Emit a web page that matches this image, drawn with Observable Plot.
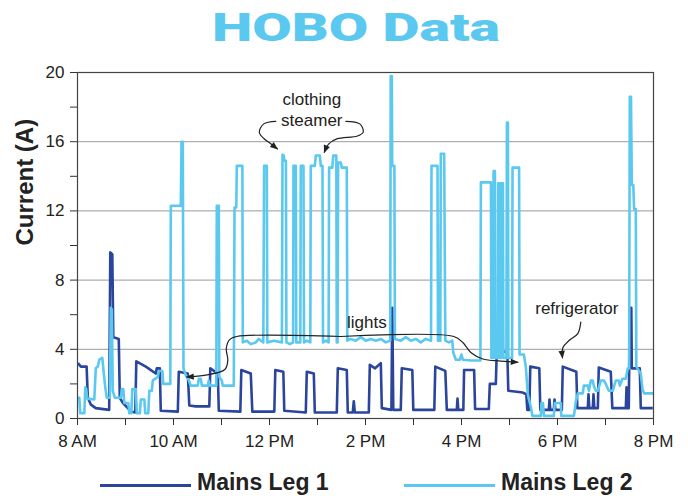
<!DOCTYPE html>
<html>
<head>
<meta charset="utf-8">
<script src="https://cdn.jsdelivr.net/npm/d3@7"></script>
<script src="https://cdn.jsdelivr.net/npm/@observablehq/plot@0.6"></script>
<style>
  html, body { margin: 0; padding: 0; background: #fff; }
  body { width: 688px; height: 496px; overflow: hidden; font-family: "Liberation Sans", Arial, sans-serif; }
  #title { position: relative; height: 60px; }
  #title span { position: absolute; left: 212px; top: 9px; line-height: 1; font-family: Roboto, "Liberation Sans", sans-serif; font-weight: 900; font-size: 39px; color: #5bc9ef; white-space: nowrap; transform-origin: left top; }
  #chart { height: 394px; }
  #legend { position: relative; height: 42px; }
  .item { position: absolute; top: 16px; display: flex; align-items: center; height: 24px; }
  .swatch { width: 91px; height: 3px; margin-top: 6px; margin-right: 6px; }
  .lab { font-weight: bold; font-size: 23px; color: #222; line-height: 24px; white-space: nowrap; }
</style>
</head>
<body>
<div id="title"><span>HOBO Data</span></div>
<div id="chart"></div>
<div id="legend"></div>
<script>
// ---- data ----
const seriesNames = ["Mains Leg 1", "Mains Leg 2"];
const seriesColors = ["#2b459d", "#5ac8ef"];

// [hour of day, current (A)]
const leg1Readings = [
  [8.01,3.2],[8.07,3.0],[8.19,3.0],[8.215,1.2],[8.28,0.8],[8.38,0.6],[8.66,0.5],[8.683,9.6],[8.725,9.5],[8.746,4.7],
  [8.86,4.6],[8.881,1.2],[8.944,0.9],[9.048,0.6],[9.11,0.4],[9.204,0.35],[9.225,3.3],[9.423,3.0],[9.631,2.6],[9.652,2.9],
  [9.715,2.9],[9.735,0.45],[10.09,0.4],[10.11,2.7],[10.298,2.6],[10.329,0.75],[10.465,0.7],[10.746,0.7],[10.767,2.9],[10.923,2.6],
  [10.944,0.45],[11.392,0.4],[11.413,2.8],[11.61,2.6],[11.642,0.4],[12.1,0.4],[12.121,2.8],[12.288,2.7],[12.308,0.45],[12.756,0.35],
  [12.777,2.7],[12.923,2.6],[12.944,0.35],[13.402,0.35],[13.423,2.9],[13.61,2.8],[13.631,0.35],[13.735,0.35],[13.756,1.0],[13.777,0.35],
  [14.069,0.35],[14.09,3.1],[14.2,2.9],[14.319,3.2],[14.34,0.6],[14.54,0.5],[14.558,6.4],[14.579,0.5],[14.735,0.5],[14.756,2.9],
  [14.975,2.8],[14.996,0.5],[15.433,0.5],[15.454,3.0],[15.663,2.75],[15.694,0.5],[15.902,0.5],[15.917,1.15],[15.933,0.5],[16.038,0.5],
  [16.054,2.8],[16.263,2.8],[16.283,0.55],[16.569,0.55],[16.59,2.0],[16.715,2.0],[16.735,3.9],[16.954,3.85],[16.975,1.6],[17.277,1.5],
  [17.35,1.4],[17.371,0.5],[17.413,0.5],[17.433,3.0],[17.621,2.9],[17.642,0.5],[17.819,0.5],[17.833,1.1],[17.85,0.5],[17.923,0.5],
  [17.938,1.1],[17.954,0.5],[18.09,0.5],[18.11,3.0],[18.392,2.7],[18.413,0.6],[18.631,0.6],[18.646,1.4],[18.663,0.6],[18.735,0.6],
  [18.75,1.4],[18.767,0.6],[18.84,0.6],[18.86,2.95],[19.11,2.7],[19.142,0.6],[19.423,0.6],[19.438,1.8],[19.454,0.6],[19.485,0.6],
  [19.506,6.4],[19.538,6.4],[19.548,2.9],[19.714,2.9],[19.735,0.6],[19.985,0.6]
];

const leg2Readings = [
  [8.006,1.2],[8.038,1.2],[8.058,0.3],[8.142,0.3],[8.163,1.8],[8.183,1.7],[8.204,1.15],[8.35,1.1],[8.381,2.9],[8.423,3.0],
  [8.454,3.4],[8.517,3.5],[8.548,2.6],[8.579,1.8],[8.61,1.2],[8.673,1.2],[8.694,6.4],[8.715,6.3],[8.735,1.6],[8.777,1.2],
  [8.902,1.2],[8.923,1.7],[8.954,1.7],[8.975,0.9],[9.058,0.9],[9.079,0.3],[9.121,0.3],[9.142,1.7],[9.215,1.7],[9.235,0.3],
  [9.298,0.3],[9.319,1.1],[9.392,1.1],[9.413,0.3],[9.475,0.3],[9.496,1.6],[9.548,1.6],[9.569,2.2],[9.673,2.4],[9.694,2.75],
  [9.767,2.75],[9.788,2.0],[9.933,2.0],[9.944,12.3],[10.152,12.3],[10.167,16.0],[10.194,16.0],[10.208,2.9],[10.256,2.5],[10.319,2.2],
  [10.36,1.9],[10.506,1.9],[10.527,2.3],[10.569,2.3],[10.59,1.9],[10.715,1.9],[10.735,2.2],[10.756,1.9],[10.892,1.9],[10.902,12.3],
  [10.944,12.3],[10.954,2.4],[11.006,2.2],[11.027,1.9],[11.256,1.9],[11.271,12.2],[11.308,12.2],[11.319,14.6],[11.435,14.6],[11.444,4.4],
  [11.527,4.5],[11.61,4.3],[11.715,4.4],[11.777,4.6],[11.871,4.4],[11.888,14.6],[11.944,14.6],[11.954,4.4],[12.09,4.5],[12.258,4.4],
  [12.271,15.25],[12.298,15.2],[12.308,14.9],[12.342,14.9],[12.352,4.4],[12.425,4.3],[12.492,4.4],[12.5,14.6],[12.548,14.6],[12.558,4.4],
  [12.642,4.4],[12.652,14.6],[12.708,14.6],[12.719,4.4],[12.777,4.5],[12.85,4.4],[12.86,14.6],[12.944,14.6],[12.965,15.2],[13.048,15.2],
  [13.069,14.6],[13.104,14.6],[13.115,4.4],[13.173,4.5],[13.231,4.4],[13.242,14.5],[13.308,14.5],[13.329,15.2],[13.392,15.2],[13.402,4.4],
  [13.419,4.4],[13.429,14.8],[13.485,14.8],[13.506,14.5],[13.61,14.5],[13.621,4.5],[13.694,4.6],[13.798,4.5],[13.902,4.7],[14.006,4.5],
  [14.11,4.6],[14.215,4.5],[14.319,4.6],[14.423,4.4],[14.515,4.5],[14.525,19.8],[14.548,19.8],[14.556,14.6],[14.602,14.6],[14.613,4.6],
  [14.735,4.5],[14.84,4.7],[14.944,4.5],[15.048,4.6],[15.152,4.4],[15.256,4.6],[15.365,4.5],[15.375,14.6],[15.5,14.6],[15.51,4.5],
  [15.558,4.5],[15.569,15.3],[15.639,15.3],[15.663,4.5],[15.735,4.4],[15.808,4.5],[15.829,3.8],[15.883,3.4],[15.967,3.4],[15.998,3.7],
  [16.029,3.4],[16.194,3.35],[16.394,3.35],[16.404,13.65],[16.613,13.65],[16.623,3.5],[16.658,3.5],[16.669,14.3],[16.696,14.3],[16.706,3.5],
  [16.758,3.5],[16.765,13.6],[16.79,13.6],[16.8,3.5],[16.825,3.5],[16.831,13.6],[16.863,13.6],[16.873,3.5],[16.935,3.5],[16.946,17.1],
  [16.967,17.1],[16.977,3.5],[17.054,3.5],[17.063,14.5],[17.2,14.5],[17.21,3.7],[17.3,3.7],[17.34,3.0],[17.381,1.4],[17.446,0.65],
  [17.475,0.15],[17.654,0.15],[17.665,0.9],[17.696,0.9],[17.717,0.15],[17.923,0.15],[17.944,0.9],[18.069,0.9],[18.079,0.15],[18.342,0.15],
  [18.383,1.0],[18.425,1.45],[18.527,1.45],[18.548,1.9],[18.631,1.9],[18.654,1.6],[18.694,2.2],[18.735,2.2],[18.756,1.9],[18.798,1.6],
  [18.84,1.6],[18.902,2.2],[18.965,2.2],[19.006,2.0],[19.069,1.6],[19.152,1.6],[19.215,2.2],[19.277,2.2],[19.298,1.9],[19.354,2.3],
  [19.423,2.3],[19.465,2.9],[19.492,2.9],[19.506,18.6],[19.531,18.6],[19.548,13.5],[19.579,13.5],[19.596,12.1],[19.631,12.1],[19.642,3.0],
  [19.735,2.6],[19.771,1.7],[19.804,1.45],[19.996,1.45]
];

const hourTicks = [8,9,10,11,12,13,14,15,16,17,18,19,20];
const ampTicks = [0,2,4,6,8,10,12,14,16,18,20];
const gridAmps = [4,8,12,16];
const yTitle = "Current (A)";

// annotations: labels and their anchor points (hour, amps)
const noteLabels = ["clothing\nsteamer", "lights", "refrigerator"];
const noteHours = [12.881, 14.027, 18.402];
const noteAmps = [17.92, 5.62, 6.42];

// annotation leader curves: [id, hour, amps]
const leaderPoints = [
  ["steamerL",12.131,17.18],["steamerL",11.881,17.03],["steamerL",11.788,16.55],["steamerL",11.888,16.17],["steamerL",12.027,15.88],["steamerL",12.163,15.59],
  ["steamerR",13.59,17.18],["steamerR",13.881,17.03],["steamerR",13.954,16.55],["steamerR",13.833,16.33],["steamerR",13.402,16.16],["steamerR",13.235,15.87],["steamerR",13.142,15.39],
  ["lightsL",13.485,4.74],["lightsL",11.319,4.74],["lightsL",11.173,4.57],["lightsL",11.1,4.05],["lightsL",11.131,3.35],["lightsL",11.069,2.83],["lightsL",10.673,2.51],["lightsL",10.277,2.4],
  ["lightsR",13.485,4.74],["lightsR",15.84,4.74],["lightsR",16.027,4.39],["lightsR",16.194,3.82],["lightsR",16.444,3.44],["lightsR",16.819,3.32],["lightsR",17.173,3.25],
  ["fridge",18.485,5.57],["fridge",18.423,4.91],["fridge",18.242,4.51],["fridge",18.11,4.08],["fridge",18.104,3.51]
];

// ---- build ----
const rows = [
  ...leg1Readings.map(([h, a]) => ({h, a, s: seriesNames[0]})),
  ...leg2Readings.map(([h, a]) => ({h, a, s: seriesNames[1]}))
];
const notes = noteLabels.map((t, i) => ({t, h: noteHours[i], a: noteAmps[i]}));
const leaders = leaderPoints.map(([id, h, a]) => ({id, h, a}));

const hourLabel = h => h === 12 ? "12 PM" : h < 12 ? `${h} AM` : `${h - 12} PM`;

const ns = "http://www.w3.org/2000/svg";
function filledArrow(color) {
  const m = document.createElementNS(ns, "marker");
  m.setAttribute("viewBox", "-8 -5 10 10");
  m.setAttribute("markerWidth", 10);
  m.setAttribute("markerHeight", 10);
  m.setAttribute("markerUnits", "userSpaceOnUse");
  m.setAttribute("orient", "auto");
  const p = document.createElementNS(ns, "path");
  p.setAttribute("d", "M-7,-3.2L1,0L-7,3.2Z");
  p.setAttribute("fill", color);
  p.setAttribute("stroke", "none");
  m.appendChild(p);
  return m;
}

function build(marker) {
  return Plot.plot({
    width: 688,
    height: 394,
    marginTop: 12,
    marginLeft: 77,
    marginRight: 35,
    marginBottom: 36,
    style: {fontFamily: '"Liberation Sans", Arial, sans-serif', fontSize: "17px", color: "#222", background: "#fff"},
    x: {domain: [8, 20]},
    y: {domain: [0, 20]},
    color: {domain: seriesNames, range: seriesColors},
    marks: [
      Plot.gridY(gridAmps, {stroke: "#9a9a9a", strokeOpacity: 1, strokeWidth: 1}),
      Plot.axisY(ampTicks, {tickSize: 7, tickPadding: 6, tickFormat: d => d % 4 === 0 ? String(d) : "", label: null, fontSize: 17, stroke: "#333"}),
      Plot.axisX(hourTicks, {tickSize: 7, tickPadding: 9, tickFormat: h => h % 2 === 0 ? hourLabel(h) : "", label: null, fontSize: 17, stroke: "#333"}),
      Plot.text([yTitle], {frameAnchor: "left", dx: -52, rotate: -90, fontSize: 24, fontWeight: "bold", fill: "#222"}),
      Plot.line(rows, {x: "h", y: "a", z: "s", stroke: "s", strokeWidth: 2.6, strokeLinejoin: "round", strokeLinecap: "butt"}),
      Plot.frame({stroke: "#444", strokeWidth: 1.2}),
      Plot.line(leaders, {x: "h", y: "a", z: "id", curve: "catmull-rom", stroke: "#222", strokeWidth: 1.2, markerEnd: marker}),
      Plot.text(notes, {x: "h", y: "a", text: "t", fontSize: 17, lineHeight: 1.28, fill: "#222"})
    ]
  });
}

let chart;
try { chart = build(filledArrow); } catch (e) { chart = build("arrow"); }
document.getElementById("chart").appendChild(chart);

// legend
const legend = document.getElementById("legend");
[100, 404].forEach((left, i) => {
  const item = document.createElement("div");
  item.className = "item";
  item.style.left = left + "px";
  item.innerHTML = `<span class="swatch" style="background:${seriesColors[i]}"></span><span class="lab">${seriesNames[i]}</span>`;
  legend.appendChild(item);
});

// stretch title to the wide display face of the original
const t = document.querySelector("#title span");
const w = t.getBoundingClientRect().width;
t.style.transform = `scaleX(${288 / w})`;
</script>
</body>
</html>
